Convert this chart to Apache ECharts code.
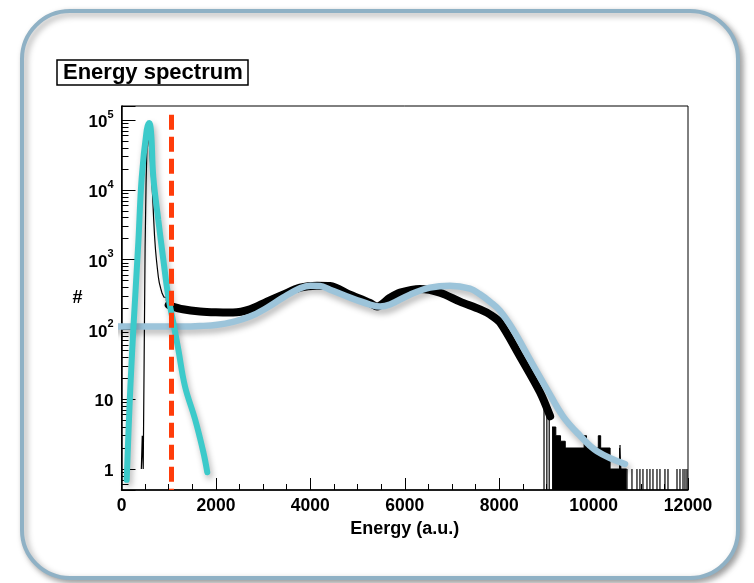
<!DOCTYPE html>
<html>
<head>
<meta charset="utf-8">
<script src="https://cdn.jsdelivr.net/npm/echarts@6/dist/echarts.min.js"></script>
<style>
html, body { margin: 0; padding: 0; background: #fff; }
#chart { width: 754px; height: 583px; }
</style>
</head>
<body>
<div id="chart"></div>
<script>
// histogram: narrow peak (bin left edge, counts)
var peakE = [420, 440, 460, 480, 500, 520, 540, 560, 580, 600, 620, 640, 660, 680, 700, 720, 740, 760, 780, 800, 830, 860, 900, 950, 1000, 1050];
var peakN = [1, 3, 1, 40, 1500, 12000, 45000, 61000, 50000, 38000, 22000, 14000, 8000, 4000, 2200, 1400, 1000, 750, 570, 470, 390, 330, 290, 255, 235, 225];
// histogram: broad part (centre of the noisy band)
var bandE = [1000, 1063, 1300, 1663, 2000, 2362, 2722, 3082, 3421, 3781, 4141, 4417, 4840, 5264, 5412, 5687, 5900, 6323, 6746, 7170, 7594, 7806, 8018, 8442, 8866, 9080];
var bandN = [225, 215, 195, 181, 176, 175, 194, 251, 316, 398, 425, 420, 316, 240, 213, 285, 337, 380, 337, 251, 194, 164, 126, 41, 12.6, 5.7];
// histogram: low-count tail, filled down to axis
var tailE = [9120, 9200, 9300, 9400, 9800, 9850, 10100, 10150, 10350, 10550, 10580, 10700];
var tailN = [4, 3, 2.5, 2, 3, 2, 3, 2, 1, 2, 1, 1];
// single bins (spikes)
var spikeE = [8950, 9010, 9060, 10560, 10708, 10813, 10919, 10982, 11046, 11131, 11194, 11258, 11343, 11406, 11512, 11576, 11767, 11830, 11894, 11936, 11978];
var spikeN = [9, 7, 6, 2.2, 1, 1, 1, 1, 1, 1, 1, 1, 1, 1, 1, 1, 1, 1, 1, 1, 1];
// fit curves
var fitE = [-230, 500, 1300, 1660, 2030, 2362, 2722, 3082, 3421, 3781, 4000, 4200, 4417, 4840, 5264, 5476, 5687, 6111, 6535, 6958, 7382, 7594, 7806, 8018, 8293, 8653, 9013, 9352, 9713, 10073, 10665];
var fitN = [110, 110, 110, 112, 117, 129, 153, 205, 286, 390, 425, 420, 372, 286, 228, 213, 228, 316, 398, 425, 385, 320, 250, 185, 100, 37, 13.9, 5.7, 3.0, 1.8, 1.18];
var gausE = [110, 170, 210, 250, 356, 428, 534, 589, 630, 674, 780, 886, 991, 1097, 1203, 1345, 1557, 1733, 1817];
var gausN = [0.7, 8, 30, 100, 1750, 15000, 72000, 91000, 62000, 15400, 3700, 1000, 297, 126, 52, 15.3, 5.2, 1.75, 0.9];
var cutE = 1063;

var yMin = 0.5, yMax = 1.6e5;
var font = "'Liberation Sans', Arial, sans-serif";

function pairs(xs, ys) {
    var out = [];
    for (var i = 0; i < xs.length; i++) out.push([xs[i], ys[i]]);
    return out;
}

var myChart = echarts.init(document.getElementById('chart'));

var option = {
    animation: false,
    backgroundColor: '#fff',
    graphic: [{
        type: 'rect',
        z: -10,
        shape: { x: 22, y: 11, width: 716, height: 567, r: 48 },
        style: {
            fill: '#fff', stroke: '#8fb1c5', lineWidth: 4,
            shadowBlur: 6, shadowOffsetX: 3, shadowOffsetY: 3, shadowColor: 'rgba(0,0,0,0.35)'
        }
    }],
    title: {
        text: 'Energy spectrum',
        left: 57, top: 60,
        padding: [2, 6, 1, 6],
        borderColor: '#000', borderWidth: 1.5,
        textStyle: { fontFamily: font, fontWeight: 'bold', fontSize: 22, color: '#000' }
    },
    grid: {
        left: 121.5, right: 66, top: 106, bottom: 93,
        show: true, borderColor: '#000', borderWidth: 1
    },
    xAxis: {
        type: 'value',
        min: 0, max: 12000, interval: 2000,
        name: 'Energy (a.u.)',
        nameLocation: 'middle', nameGap: 23,
        nameTextStyle: { fontFamily: font, fontWeight: 'bold', fontSize: 18, color: '#000' },
        axisLine: { lineStyle: { color: '#000', width: 1.5 } },
        axisTick: { inside: true, length: 12, lineStyle: { color: '#000' } },
        minorTick: { show: true, splitNumber: 4, length: 6, lineStyle: { color: '#000' } },
        splitLine: { show: false },
        axisLabel: {
            margin: 7, fontFamily: font, fontWeight: 'bold', fontSize: 17.5, color: '#000',
            formatter: function (v) { return String(v); }
        }
    },
    yAxis: {
        type: 'log', logBase: 10,
        min: yMin, max: yMax,
        name: '#',
        nameLocation: 'middle', nameGap: 36, nameRotate: 0,
        nameTextStyle: { fontFamily: font, fontWeight: 'bold', fontSize: 18, color: '#000' },
        axisLine: { show: true, lineStyle: { color: '#000', width: 1.5 } },
        axisTick: { inside: true, length: 14, lineStyle: { color: '#000' } },
        minorTick: { show: true, splitNumber: 9, length: 7, lineStyle: { color: '#000' } },
        splitLine: { show: false },
        axisLabel: {
            margin: 8, showMinLabel: false, showMaxLabel: false,
            formatter: function (v) {
                var l = Math.log(v) / Math.LN10;
                var e = Math.round(l);
                if (Math.abs(l - e) > 0.01) return '';
                if (e === 0) return '{b|1}';
                if (e === 1) return '{b|10}';
                return '{b|10}{s|' + e + '}';
            },
            rich: {
                b: { fontFamily: font, fontWeight: 'bold', fontSize: 17, color: '#000', verticalAlign: 'bottom', lineHeight: 22 },
                s: { fontFamily: font, fontWeight: 'bold', fontSize: 11, color: '#000', verticalAlign: 'top', lineHeight: 22 }
            }
        }
    },
    series: [
        {
            name: 'peak', type: 'line', step: 'end', symbol: 'none',
            data: pairs(peakE, peakN),
            lineStyle: { color: '#000', width: 1.2 }, z: 2
        },
        {
            name: 'band', type: 'line', smooth: 0.3, symbol: 'none',
            data: pairs(bandE, bandN),
            lineStyle: { color: '#000', width: 8, cap: 'round', join: 'round' }, z: 2
        },
        {
            name: 'tail', type: 'line', step: 'end', symbol: 'none',
            data: pairs(tailE, tailN),
            lineStyle: { color: '#000', width: 1 },
            areaStyle: { color: '#000', opacity: 1, origin: 'start' }, z: 2
        },
        {
            name: 'spikes', type: 'custom',
            data: pairs(spikeE, spikeN),
            renderItem: function (params, api) {
                var top = api.coord([api.value(0), api.value(1)]);
                var bot = api.coord([api.value(0), yMin]);
                return {
                    type: 'line',
                    shape: { x1: top[0], y1: top[1], x2: bot[0], y2: bot[1] },
                    style: { stroke: '#000', lineWidth: 1.2 }
                };
            },
            z: 2
        },
        {
            name: 'fit', type: 'line', smooth: 0.4, symbol: 'none', clip: false,
            data: pairs(fitE, fitN),
            lineStyle: {
                color: '#9cc4da', width: 6.5, cap: 'round',
                shadowColor: 'rgba(0,0,0,0.3)', shadowBlur: 6, shadowOffsetX: 2, shadowOffsetY: 4
            }, z: 3
        },
        {
            name: 'gauss', type: 'line', smooth: 0.4, symbol: 'none', clip: false,
            data: pairs(gausE, gausN),
            lineStyle: {
                color: '#3ccaca', width: 6, cap: 'round',
                shadowColor: 'rgba(0,0,0,0.3)', shadowBlur: 6, shadowOffsetX: 2, shadowOffsetY: 4
            }, z: 4,
            markLine: {
                silent: true, symbol: 'none',
                label: { show: false },
                lineStyle: { color: '#ff3c0a', width: 5, type: [15, 7] },
                data: [[{ coord: [cutE, 1.2e5] }, { coord: [cutE, yMin] }]]
            }
        }
    ]
};

myChart.setOption(option);
</script>
</body>
</html>
